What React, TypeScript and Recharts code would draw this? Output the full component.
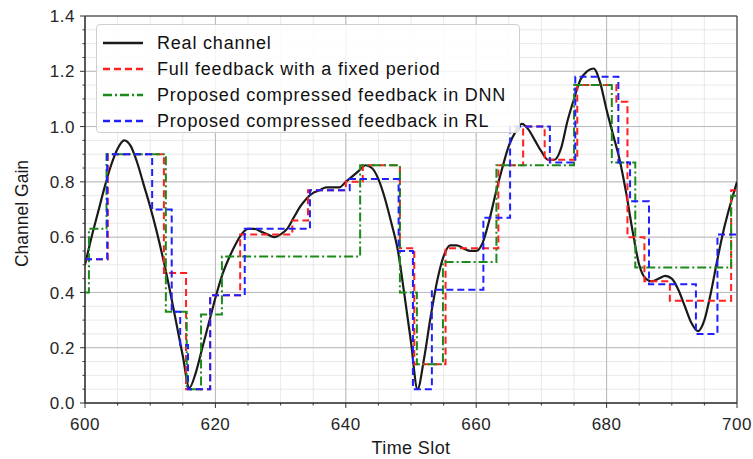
import React from 'react';
import { LineChart, Line, XAxis, YAxis, CartesianGrid, Legend, ReferenceArea } from 'recharts';

const FONT = '"Liberation Sans", Arial, Helvetica, sans-serif';

// real channel, one sample per time slot starting at 600
const slotStart = 600;
const realGain = [
  0.50, 0.60, 0.69, 0.78, 0.86, 0.92, 0.95, 0.93, 0.87, 0.79,
  0.71, 0.62, 0.52, 0.41, 0.29, 0.17, 0.055, 0.11, 0.20, 0.29,
  0.38, 0.46, 0.52, 0.57, 0.61, 0.63, 0.63, 0.62, 0.61, 0.60,
  0.61, 0.63, 0.67, 0.71, 0.74, 0.76, 0.77, 0.78, 0.78, 0.78,
  0.80, 0.82, 0.84, 0.86, 0.85, 0.81, 0.74, 0.65, 0.55, 0.39,
  0.22, 0.05, 0.16, 0.31, 0.44, 0.53, 0.57, 0.57, 0.56, 0.55,
  0.55, 0.58, 0.66, 0.76, 0.85, 0.93, 0.98, 1.01, 0.99, 0.95,
  0.91, 0.88, 0.88, 0.92, 1.02, 1.10, 1.17, 1.20, 1.21, 1.16,
  1.06, 0.97, 0.88, 0.76, 0.62, 0.50, 0.45, 0.44, 0.45, 0.46,
  0.45, 0.41, 0.35, 0.29, 0.26, 0.30, 0.40, 0.52, 0.63, 0.72,
  0.80,
];

// step series: slot where each held value starts, and that value
const fullT = [600, 603.5, 612.1, 615.5, 619.2, 623.8, 631.8, 634.2, 640, 642.6, 648.3, 650.5, 655.3, 663.4, 667.2, 670.5, 675.5, 681.5, 683.2, 685.8, 689.7, 699.1, 700];
const fullV = [0.52, 0.90, 0.47, 0.05, 0.39, 0.61, 0.66, 0.77, 0.80, 0.86, 0.56, 0.14, 0.56, 0.86, 1.00, 0.88, 1.15, 1.09, 0.60, 0.44, 0.37, 0.77, 0.77];

const dnnT = [600, 600.6, 603.3, 612.4, 615.6, 617.8, 621.0, 642.2, 648.3, 650.9, 654.9, 663.1, 675.0, 680.8, 684.4, 699.1, 700];
const dnnV = [0.40, 0.63, 0.90, 0.33, 0.05, 0.32, 0.53, 0.86, 0.40, 0.14, 0.51, 0.86, 1.15, 0.87, 0.49, 0.75, 0.75];

const rlT = [600, 603.4, 610.3, 613.3, 614.6, 615.8, 619.2, 624.5, 634.5, 640.6, 648.1, 650.3, 653.2, 661.1, 665.2, 671.3, 675.2, 681.8, 683.6, 686.5, 693.7, 697.0, 700];
const rlV = [0.52, 0.90, 0.70, 0.33, 0.21, 0.05, 0.39, 0.63, 0.77, 0.81, 0.55, 0.05, 0.41, 0.67, 1.00, 0.87, 1.18, 0.87, 0.73, 0.43, 0.25, 0.61, 0.61];

const xTicks = [600, 605, 610, 615, 620, 625, 630, 635, 640, 645, 650, 655, 660, 665, 670, 675, 680, 685, 690, 695, 700];
const xMajor = [600, 620, 640, 660, 680, 700];
const yTicks = [0, 0.05, 0.1, 0.15, 0.2, 0.25, 0.3, 0.35, 0.4, 0.45, 0.5, 0.55, 0.6, 0.65, 0.7, 0.75, 0.8, 0.85, 0.9, 0.95, 1.0, 1.05, 1.1, 1.15, 1.2, 1.25, 1.3, 1.35, 1.4];
const yMajor = [0, 0.2, 0.4, 0.6, 0.8, 1.0, 1.2, 1.4];

const realData = realGain.map((v, i) => ({ t: slotStart + i, v }));
const toSteps = (ts: number[], vs: number[]) => ts.map((t, i) => ({ t, v: vs[i] }));

const series = [
  { name: 'Real channel', data: realData, color: '#1a1a1a', width: 2.2, dash: undefined as string | undefined, type: 'monotone' },
  { name: 'Full feedback with a fixed period', data: toSteps(fullT, fullV), color: '#ff1f1f', width: 2, dash: '7 4', type: 'stepAfter' },
  { name: 'Proposed compressed feedback in DNN', data: toSteps(dnnT, dnnV), color: '#1b8a1b', width: 2, dash: '9 3 2 3', type: 'stepAfter' },
  { name: 'Proposed compressed feedback in RL', data: toSteps(rlT, rlV), color: '#1f1fff', width: 2, dash: '7 4', type: 'stepAfter' },
];

const isMajor = (list: number[], v: number) => list.some((m) => Math.abs(m - v) < 1e-6);

const XTick = (props: any) => {
  const { x, y, payload } = props;
  const major = isMajor(xMajor, payload.value);
  return (
    <g>
      <line x1={x} y1={y} x2={x} y2={y + (major ? 5 : 2.5)} stroke="#333" strokeWidth={1} />
      {major && (
        <text x={x} y={y + 27} textAnchor="middle" fontSize={17} letterSpacing={0.5} fill="#262626" fontFamily={FONT}>
          {payload.value}
        </text>
      )}
    </g>
  );
};

const YTick = (props: any) => {
  const { x, y, payload } = props;
  const major = isMajor(yMajor, payload.value);
  return (
    <g>
      <line x1={x - (major ? 5 : 2.5)} y1={y} x2={x} y2={y} stroke="#333" strokeWidth={1} />
      {major && (
        <text x={x - 10} y={y} dy="0.36em" textAnchor="end" fontSize={17} letterSpacing={0.5} fill="#262626" fontFamily={FONT}>
          {payload.value.toFixed(1)}
        </text>
      )}
    </g>
  );
};

const LegendBox = () => (
  <div
    style={{
      width: 424,
      height: 109,
      boxSizing: 'border-box',
      border: '1px solid #cfcfcf',
      borderRadius: 4,
      background: 'rgba(255,255,255,0.85)',
      padding: '5px 0 0 6px',
      fontFamily: FONT,
    }}
  >
    {series.map((s) => (
      <div key={s.name} style={{ display: 'flex', alignItems: 'center', height: 26 }}>
        <svg width={40} height={6} style={{ display: 'block' }}>
          <line x1={0} y1={3} x2={40} y2={3} stroke={s.color} strokeWidth={s.width + 0.3} strokeDasharray={s.dash} />
        </svg>
        <span style={{ marginLeft: 14, fontSize: 18, letterSpacing: 0.8, color: '#111', lineHeight: '26px', whiteSpace: 'nowrap' }}>
          {s.name}
        </span>
      </div>
    ))}
  </div>
);

export default function App() {
  return (
    <div style={{ position: 'absolute', left: 0, top: 0, width: 753, height: 459, background: '#fff', fontFamily: FONT }}>
      <LineChart width={753} height={459} margin={{ top: 16, right: 16, left: 0, bottom: 0 }}>
        {/* minor then major grid */}
        <CartesianGrid stroke="#e3e3e3" strokeWidth={0.8} verticalValues={xTicks} horizontalValues={yTicks} />
        <CartesianGrid stroke="#b8b8b8" strokeWidth={1} verticalValues={xMajor} horizontalValues={yMajor} />
        <XAxis
          type="number"
          dataKey="t"
          domain={[600, 700]}
          ticks={xTicks}
          interval={0}
          allowDataOverflow
          height={56}
          tickSize={0}
          tickMargin={0}
          tickLine={false}
          tick={<XTick />}
          axisLine={{ stroke: '#333' }}
          label={(p: any) => (
            <text
              x={p.viewBox.x + p.viewBox.width / 2}
              y={p.viewBox.y + 51}
              textAnchor="middle"
              fontSize={18}
              letterSpacing={0.4}
              fill="#1a1a1a"
              fontFamily={FONT}
            >
              Time Slot
            </text>
          )}
        />
        <YAxis
          type="number"
          domain={[0, 1.4]}
          ticks={yTicks}
          interval={0}
          allowDataOverflow
          width={85}
          tickSize={0}
          tickMargin={0}
          tickLine={false}
          tick={<YTick />}
          axisLine={{ stroke: '#333' }}
          label={(p: any) => {
            const cx = p.viewBox.x + 22;
            const cy = p.viewBox.y + p.viewBox.height / 2 + 4;
            return (
              <text
                x={cx}
                y={cy}
                transform={`rotate(-90 ${cx} ${cy})`}
                textAnchor="middle"
                dominantBaseline="central"
                fontSize={17.5}
                fill="#1a1a1a"
                fontFamily={FONT}
              >
                Channel Gain
              </text>
            );
          }}
        />
        {series.map((s) => (
          <Line
            key={s.name}
            data={s.data}
            dataKey="v"
            name={s.name}
            type={s.type as any}
            stroke={s.color}
            strokeWidth={s.width}
            strokeDasharray={s.dash}
            dot={false}
            activeDot={false}
            isAnimationActive={false}
          />
        ))}
        <ReferenceArea x1={600} x2={700} y1={0} y2={1.4} fill="none" stroke="#333" strokeWidth={1} />
        <Legend
          layout="vertical"
          align="center"
          verticalAlign="middle"
          content={() => <LegendBox />}
          wrapperStyle={{ left: 96, top: 24, width: 424 }}
        />
      </LineChart>
    </div>
  );
}
